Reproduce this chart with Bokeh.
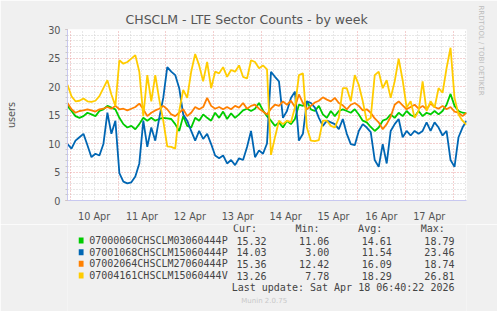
from bokeh.plotting import figure
from bokeh.layouts import column
from bokeh.models import Range1d, FixedTicker, SingleIntervalTicker, Grid, Title
from bokeh.core.properties import value
from bokeh.embed import file_html
from bokeh.resources import INLINE

# ---------------- data ----------------
# samples every 2 hours, hours measured from 10 Apr 00:00 (first sample 9 Apr 22:40)
start_hour = -1.333
step_hours = 2.0

day_labels = ["10 Apr", "11 Apr", "12 Apr", "13 Apr", "14 Apr", "15 Apr", "16 Apr", "17 Apr"]

series_names = ["07000060CHSCLM03060444P", "07001068CHSCLM15060444P",
                "07002064CHSCLM27060444P", "07004161CHSCLM15060444V"]
series_colors = ["#00CC00", "#0066B3", "#FF8000", "#FFCC00"]

green = [16.6, 15.7, 14.8, 14.5, 14.8, 15.4, 15.1, 14.8, 15.7, 16.0, 16.6, 16.3, 16.0, 14.5, 13.4, 12.8, 13.1, 12.5, 13.4, 14.5, 14.0, 14.5, 14.0, 14.3, 14.5, 14.4,
         14.3, 13.4, 12.2, 14.8, 13.1, 12.8, 14.5, 14.0, 15.1, 14.5, 14.0, 15.4, 14.5, 15.6, 14.3, 15.3, 14.5, 15.1, 15.8, 16.1, 15.7, 16.1, 17.1, 15.8, 14.8,
         14.0, 13.1, 13.7, 12.8, 14.0, 13.4, 14.3, 16.8, 16.6, 17.4, 16.0, 15.7, 16.6, 15.1, 14.5, 15.7, 14.8, 15.7, 16.0, 15.7, 15.4, 16.0, 15.1, 14.0, 13.7,
         12.9, 12.2, 12.8, 14.0, 14.3, 15.1, 14.5, 15.4, 14.8, 15.7, 15.0, 14.7, 15.7, 14.8, 15.4, 15.1, 15.7, 15.1, 15.7, 16.8, 18.7, 16.6, 15.7, 15.4, 15.3]

blue = [9.9, 9.1, 10.5, 11.1, 11.7, 9.7, 7.6, 8.2, 7.9, 9.9, 15.4, 11.7, 14.0, 4.8, 3.3, 3.0, 3.2, 4.2, 6.5, 14.0, 9.4, 12.8, 10.5, 14.5, 18.0, 23.4,
        22.6, 22.0, 19.7, 15.1, 14.0, 12.2, 10.5, 12.2, 10.8, 11.7, 9.9, 7.9, 7.4, 7.9, 6.5, 7.1, 6.2, 7.4, 7.1, 9.4, 12.2, 7.6, 8.8, 8.2, 10.0,
        22.6, 21.7, 20.9, 14.5, 15.7, 18.0, 19.1, 10.5, 11.7, 17.4, 17.1, 16.3, 14.5, 13.1, 14.0, 13.7, 13.4, 12.5, 14.3, 11.7, 9.9, 9.7, 12.2, 13.4, 12.8,
        12.0, 7.1, 5.9, 9.9, 6.5, 12.2, 13.4, 14.3, 11.1, 12.2, 11.4, 12.2, 11.7, 12.2, 13.7, 12.2, 13.7, 12.8, 11.4, 12.2, 7.1, 5.9, 11.1, 12.8, 14.0]

orange = [17.1, 16.0, 15.4, 15.7, 15.8, 16.0, 15.8, 15.6, 16.0, 16.1, 16.4, 16.1, 16.6, 16.0, 16.1, 15.8, 16.1, 16.4, 17.0, 16.0, 14.8, 15.4, 15.8, 16.1, 16.6, 16.0,
          15.1, 14.8, 15.4, 16.0, 14.8, 15.4, 16.4, 16.0, 16.4, 18.0, 16.6, 16.1, 16.4, 16.0, 16.4, 16.0, 16.6, 16.3, 17.1, 16.1, 16.6, 16.8, 16.1, 15.6, 15.1,
          16.1, 16.8, 16.6, 17.4, 16.8, 17.5, 16.4, 18.6, 17.1, 16.0, 16.6, 17.2, 17.5, 18.1, 17.7, 17.4, 18.0, 17.1, 16.7, 16.0, 16.8, 17.1, 16.6, 15.8, 16.0,
          15.4, 14.4, 13.7, 12.5, 13.4, 14.7, 16.8, 17.4, 16.7, 16.0, 16.4, 16.8, 16.1, 16.6, 16.0, 17.0, 16.4, 16.1, 16.6, 16.0, 16.4, 15.6, 15.4, 14.8, 15.4]

yellow = [20.3, 18.3, 17.4, 17.5, 17.9, 17.4, 17.3, 17.5, 18.3, 19.7, 21.1, 18.6, 16.6, 24.6, 24.0, 24.3, 24.9, 25.5, 22.6, 14.8, 22.0, 17.4, 22.0, 17.7, 14.0, 9.5,
          9.4, 9.1, 15.7, 19.4, 18.0, 22.6, 25.7, 23.7, 20.9, 24.3, 19.7, 22.6, 22.3, 23.4, 21.7, 22.9, 22.6, 23.7, 21.7, 21.4, 24.6, 24.3, 23.2, 23.7, 23.0,
          8.0, 11.1, 14.0, 13.4, 14.0, 13.7, 16.3, 22.0, 22.3, 12.8, 10.5, 10.4, 10.6, 14.0, 14.0, 13.1, 12.8, 14.5, 19.7, 19.7, 17.4, 22.0, 20.3, 17.4, 14.0,
          14.5, 22.0, 22.6, 19.7, 21.1, 18.0, 20.9, 24.9, 21.1, 16.3, 17.4, 14.5, 15.7, 20.9, 15.7, 17.4, 16.3, 19.7, 18.9, 23.2, 26.8, 18.0, 15.1, 14.0, 13.3]

stat_headers = ["Cur:", "Min:", "Avg:", "Max:"]
stat_cur = ["15.32", "14.03", "15.36", "13.26"]
stat_min = ["11.06", "3.00", "12.42", "7.78"]
stat_avg = ["14.61", "11.54", "16.09", "18.29"]
stat_max = ["18.79", "23.46", "18.74", "26.81"]
last_update = "Last update: Sat Apr 18 06:40:22 2026"
munin_version = "Munin 2.0.75"

# ---------------- chart ----------------
W = 497
H_TOP = 224
H_BOT = 311 - H_TOP
BG = "#F0F0F0"
AX = "#C8C8F0"
GREY = "#555555"

p = figure(width=W, height=H_TOP, output_backend="svg", toolbar_location=None,
           x_range=Range1d(start_hour, start_hour + 200), y_range=Range1d(0, 30),
           min_border_left=67, min_border_right=30, min_border_top=29, min_border_bottom=H_TOP - 203,
           background_fill_color="white", border_fill_color=BG, outline_line_color=None)

p.title.text = "CHSCLM - LTE Sector Counts - by week"
p.title.text_font = "DejaVu Sans"
p.title.text_font_size = "12.5px"
p.title.text_font_style = "normal"
p.title.text_color = "#555555"
p.title.align = "left"
p.title.offset = 58
p.title.standoff = 5

p.add_layout(Title(text="RRDTOOL / TOBI OETIKER", text_font="DejaVu Sans", text_font_size="7px",
                   text_font_style="normal", text_color="#BBBBBB", align="left",
                   offset=-24, standoff=21), "right")

n = len(green)
xs = [start_hour + step_hours * i for i in range(n)]

# grids: minor gray first, major red on top
p.xgrid.ticker = FixedTicker(ticks=[h for h in range(6, 199, 6) if h % 24])
p.xgrid.grid_line_color = "#D0D0D0"
p.xgrid.grid_line_dash = "1 2"
p.ygrid.ticker = FixedTicker(ticks=[v for v in range(1, 30) if v % 5])
p.ygrid.grid_line_color = "#D0D0D0"
p.ygrid.grid_line_dash = "1 2"
p.add_layout(Grid(dimension=0, ticker=FixedTicker(ticks=list(range(0, 199, 24))),
                  grid_line_color="#E8A0A0", grid_line_dash="1 2"))
p.add_layout(Grid(dimension=1, ticker=FixedTicker(ticks=list(range(0, 31, 5))),
                  grid_line_color="#E8A0A0", grid_line_dash="1 2"))

xa = p.xaxis[0]
xa.ticker = FixedTicker(ticks=[12 + 24 * k for k in range(len(day_labels))])
xa.major_label_overrides = {12 + 24 * k: lab for k, lab in enumerate(day_labels)}
xa.major_tick_line_color = None
xa.minor_tick_line_color = None
xa.axis_line_color = AX
xa.major_label_standoff = 4
xa.major_label_text_font = "DejaVu Sans"
xa.major_label_text_font_size = "9.7px"
xa.major_label_text_color = GREY

ya = p.yaxis[0]
ya.ticker = SingleIntervalTicker(interval=5, num_minor_ticks=5)
ya.axis_line_color = AX
ya.major_tick_line_color = "#E8A0A0"
ya.major_tick_out = 2
ya.major_tick_in = 0
ya.minor_tick_line_color = "#C8C8C8"
ya.minor_tick_out = 2
ya.minor_tick_in = 0
ya.major_label_standoff = 5
ya.major_label_text_font = "DejaVu Sans"
ya.major_label_text_font_size = "9.7px"
ya.major_label_text_color = GREY
ya.axis_label = "users"
ya.axis_label_text_font = "DejaVu Sans"
ya.axis_label_text_font_size = "9.7px"
ya.axis_label_text_font_style = "normal"
ya.axis_label_text_color = GREY
ya.axis_label_standoff = 28

for ys, col in zip([green, blue, orange, yellow], series_colors):
    p.line(xs, ys, line_color=col, line_width=1.8)

# ---------------- legend block (pixel space) ----------------
q = figure(width=W, height=H_BOT, output_backend="svg", toolbar_location=None,
           x_range=Range1d(0, W), y_range=Range1d(311, H_TOP),
           x_axis_type=None, y_axis_type=None, min_border=0,
           background_fill_color=BG, border_fill_color=BG, outline_line_color=None)
q.xgrid.visible = False
q.ygrid.visible = False

MONO = value("DejaVu Sans Mono")
FS = value("10px")
TXT = "#444444"
cols_x = [248, 326, 404, 482]
rows_y = [240, 251.7, 263.3, 275]

q.text(x=[c - 12 for c in cols_x], y=[228] * 4, text=stat_headers, text_font=MONO, text_font_size=FS,
       text_color=TXT, text_align="right", text_baseline="middle")
q.rect(x=[17] * 4, y=rows_y, width=6, height=6, fill_color=series_colors, line_color=None)
q.text(x=[27] * 4, y=rows_y, text=series_names, text_font=MONO, text_font_size=FS,
       text_color=TXT, text_align="left", text_baseline="middle")
for vals, cx in zip([stat_cur, stat_min, stat_avg, stat_max], cols_x):
    q.text(x=[cx] * 4, y=rows_y, text=vals, text_font=MONO, text_font_size=FS,
           text_color=TXT, text_align="right", text_baseline="middle")
q.text(x=[482], y=[287.3], text=[last_update], text_font=MONO, text_font_size=FS,
       text_color=TXT, text_align="right", text_baseline="middle")
q.text(x=[245], y=[300], text=[munin_version], text_font=value("DejaVu Sans"), text_font_size=value("7px"),
       text_color="#C8C8C8", text_align="center", text_baseline="middle")

layout = column(p, q, spacing=0)
open("out.html", "w").write(file_html(layout, INLINE))
